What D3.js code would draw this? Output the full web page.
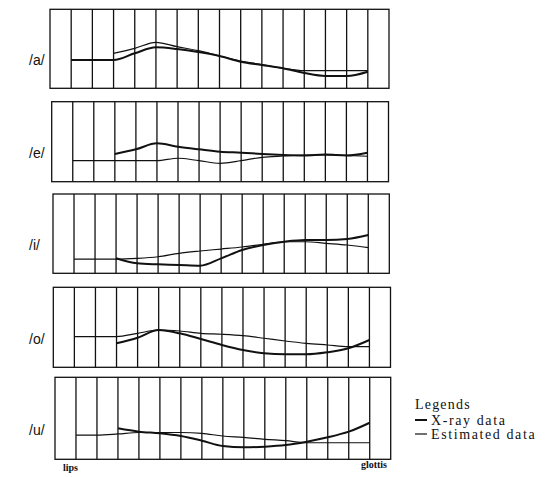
<!DOCTYPE html>
<html lang="en">
<head>
<meta charset="UTF-8">
<title>Vocal tract profiles</title>
<style>
  body { margin: 0; background: #fff; }
  svg { display: block; }
</style>
</head>
<body>
<script src="https://cdn.jsdelivr.net/npm/d3@7"></script>
<script>
// sections along the tract, lips (left) to glottis (right)
var sections = [1, 2, 3, 4, 5, 6, 7, 8, 9, 10, 11, 12, 13, 14, 15];
var vowels = ["/a/", "/e/", "/i/", "/o/", "/u/"];

// X-ray data (heavy line)
var xray_a = [3.58, 3.58, 3.58, 4.43, 5.19, 4.97, 4.59, 4.09, 3.37, 2.95, 2.53, 1.94, 1.56, 1.56, 2.10];
var xray_e = [null, null, 3.46, 4.05, 4.80, 4.38, 4.05, 3.75, 3.63, 3.46, 3.34, 3.28, 3.40, 3.28, 3.63];
var xray_i = [null, null, 1.89, 1.26, 1.13, 1.05, 0.96, 1.89, 2.94, 3.57, 3.98, 4.20, 4.20, 4.33, 4.83];
var xray_o = [null, null, 3.00, 3.70, 4.66, 4.25, 3.54, 2.79, 2.16, 1.75, 1.63, 1.63, 1.88, 2.38, 3.41];
var xray_u = [null, null, 3.78, 3.37, 3.17, 2.84, 2.27, 1.62, 1.46, 1.54, 1.74, 2.15, 2.68, 3.37, 4.46];

// Estimated data (light line)
var est_a = [null, null, 4.43, 5.06, 5.82, 5.27, 4.76, 4.09, 3.46, 3.01, 2.53, 2.23, 2.23, 2.23, 2.23];
var est_e = [2.63, 2.63, 2.63, 2.63, 2.63, 2.93, 2.63, 2.30, 2.63, 3.05, 3.21, 3.34, 3.34, 3.28, 3.18];
var est_i = [1.80, 1.80, 1.80, 1.89, 2.09, 2.52, 2.81, 3.06, 3.32, 3.66, 3.98, 3.98, 3.78, 3.57, 3.23];
var est_o = [3.83, 3.83, 3.83, 4.25, 4.66, 4.54, 4.25, 4.13, 3.95, 3.63, 3.29, 3.00, 2.79, 2.58, 2.58];
var est_u = [2.96, 2.96, 3.09, 3.27, 3.27, 3.27, 3.17, 2.84, 2.68, 2.44, 2.27, 2.02, 2.02, 2.02, 2.02];

var xrayData = [xray_a, xray_e, xray_i, xray_o, xray_u];
var estData = [est_a, est_e, est_i, est_o, est_u];

var width = 548, height = 477;

// panel boxes (slightly skewed as in the scan)
var panelTop = [9.3, 101.7, 194, 287.3, 377.3];
var panelH = [79, 80, 79.3, 80, 82];
var panelLeft = [50, 51.7, 53, 53.3, 55];
var panelRight = [389, 388.5, 389.3, 390.5, 390.7];

var ink = "#111";

var svg = d3.select("body").append("svg")
    .attr("width", width)
    .attr("height", height);

vowels.forEach(function(v, p) {
    var x = d3.scaleLinear().domain([0, 16]).range([panelLeft[p], panelRight[p]]);
    var y = d3.scaleLinear().domain([0, 10]).range([panelTop[p] + panelH[p], panelTop[p]]);

    var g = svg.append("g").attr("class", "panel");

    g.append("rect")
        .attr("x", x(0)).attr("y", y(10))
        .attr("width", x(16) - x(0)).attr("height", y(0) - y(10))
        .attr("fill", "none").attr("stroke", ink).attr("stroke-width", 1.3);

    g.selectAll("line.sec")
        .data(sections)
        .enter().append("line")
        .attr("class", "sec")
        .attr("x1", function(d) { return x(d); })
        .attr("x2", function(d) { return x(d); })
        .attr("y1", y(10)).attr("y2", y(0))
        .attr("stroke", ink).attr("stroke-width", 1.3);

    var line = d3.line()
        .defined(function(d) { return d[1] != null; })
        .x(function(d) { return x(d[0]); })
        .y(function(d) { return y(d[1]); })
        .curve(d3.curveMonotoneX);

    var est = sections.map(function(s, i) { return [s, estData[p][i]]; });
    var xr = sections.map(function(s, i) { return [s, xrayData[p][i]]; });

    g.append("path").attr("d", line(est))
        .attr("fill", "none").attr("stroke", ink).attr("stroke-width", 1.2);
    g.append("path").attr("d", line(xr))
        .attr("fill", "none").attr("stroke", ink).attr("stroke-width", 2);

    g.append("text")
        .attr("x", 29)
        .attr("y", panelTop[p] + panelH[p] * 0.66)
        .attr("dominant-baseline", "middle")
        .style("font-family", "'Liberation Sans', Arial, sans-serif")
        .style("font-size", "14px")
        .attr("fill", ink)
        .text(v);
});

svg.append("text")
    .attr("x", 63).attr("y", 471)
    .style("font-family", "'Liberation Serif', 'Times New Roman', serif")
    .style("font-size", "10px").style("font-weight", "bold")
    .attr("fill", ink)
    .text("lips");

svg.append("text")
    .attr("x", 387).attr("y", 468)
    .attr("text-anchor", "end")
    .style("font-family", "'Liberation Serif', 'Times New Roman', serif")
    .style("font-size", "10px").style("font-weight", "bold")
    .attr("fill", ink)
    .text("glottis");

// legend
var legend = svg.append("g").attr("transform", "translate(415,0)");
var serif = "'Liberation Serif', 'Times New Roman', serif";

legend.append("text")
    .attr("x", 0).attr("y", 409)
    .style("font-family", serif).style("font-size", "14px")
    .style("letter-spacing", "1.2px")
    .attr("fill", ink)
    .text("Legends");

var items = [
    {name: "X-ray data", w: 2, y: 420},
    {name: "Estimated data", w: 1.2, y: 434}
];

items.forEach(function(it) {
    legend.append("line")
        .attr("x1", 0).attr("x2", 12)
        .attr("y1", it.y).attr("y2", it.y)
        .attr("stroke", ink).attr("stroke-width", it.w);
    legend.append("text")
        .attr("x", 16).attr("y", it.y + 4.5)
        .style("font-family", serif).style("font-size", "14px")
        .style("letter-spacing", "1.6px")
        .attr("fill", ink)
        .text(it.name);
});
</script>
</body>
</html>
